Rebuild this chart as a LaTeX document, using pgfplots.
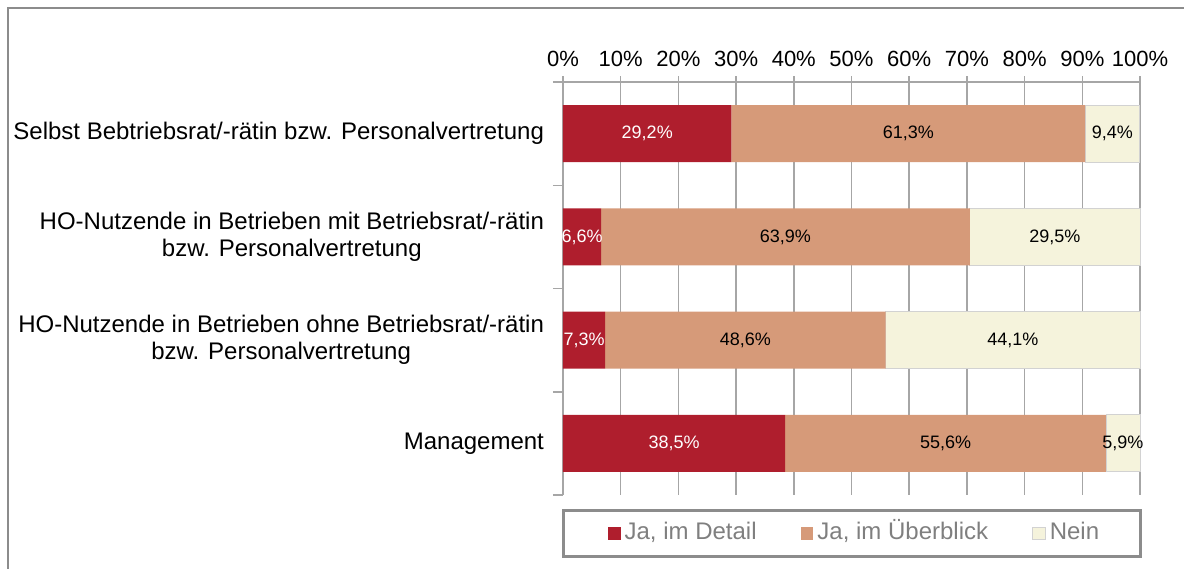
\documentclass[border=0pt]{standalone}
\usepackage{fontspec}
\setmainfont{Liberation Sans}
\usepackage{pgfplots}
\usepackage{pgfplotstable}
\pgfplotsset{compat=1.18}
\definecolor{detail}{HTML}{AF1E2D}
\definecolor{ueber}{HTML}{D69A79}
\definecolor{nein}{HTML}{F5F3DC}
\definecolor{gridgray}{HTML}{A6A6A6}
\definecolor{framegray}{HTML}{8C8C8C}
\definecolor{legtext}{HTML}{7F7F7F}

\pgfplotsset{sq legend/.style={legend image code/.code={\fill[##1] (0pt,-3.2pt) rectangle (6.4pt,3.2pt);}}}

% shares in percent, y=3 is the top row
\pgfplotstableread{
y detail ueber nein
3 29.2 61.3 9.4
2 6.6  63.9 29.5
1 7.3  48.6 44.1
0 38.5 55.6 5.9
}\data

\begin{document}
\begin{tikzpicture}[x=1pt,y=1pt]
\useasboundingbox (0,0) rectangle (592,284);
\draw[framegray, line width=1pt] (4,-2) -- (4,280) -- (594,280);
\begin{axis}[
    at={(281.5pt,36.5pt)}, anchor=south west,
    scale only axis, width=288.5pt, height=206.5pt,
    xbar stacked, bar width=28.5pt,
    xmin=0, xmax=100, ymin=-0.5, ymax=3.5,
    clip=false,
    /pgf/number format/assume math mode=true,
    axis x line=top, axis y line=left,
    axis line style={-, gridgray, line width=0.75pt},
    xtick={0,10,...,100},
    xticklabels={0\%,10\%,20\%,30\%,40\%,50\%,60\%,70\%,80\%,90\%,100\%},
    xticklabel style={font=\fontsize{11}{13}\selectfont, yshift=1pt},
    tick align=outside, major tick length=3pt,
    tick style={gridgray, line width=0.75pt},
    xmajorgrids, grid style={gridgray, line width=0.75pt},
    ytick={0,1,2,3},
    yticklabels={Management,
      {HO-Nutzende in Betrieben ohne Betriebsrat/-rätin\\bzw. Personalvertretung},
      {HO-Nutzende in Betrieben mit Betriebsrat/-rätin\\bzw. Personalvertretung},
      {Selbst Bebtriebsrat/-rätin bzw. Personalvertretung}},
    yticklabel style={align=center, font=\fontsize{12}{13.5}\selectfont, xshift=-3pt},
    every major y tick/.append style={draw=none},
    minor ytick={-0.5,0.5,1.5,2.5,3.5},
    minor tick length=5pt,
    every minor y tick/.append style={gridgray, line width=0.75pt},
    every node near coord/.append style={anchor=center, font=\fontsize{9}{11}\selectfont},
    legend style={at={(0.5,-0.0932)}, anchor=center, xshift=2pt, legend columns=3,
      draw=none, fill=none, font=\fontsize{12}{14}\selectfont, text=legtext,
      nodes={text height=9pt, text depth=2.5pt},
      /tikz/every even column/.append style={column sep=20pt}},
    legend cell align=left,
]
\addplot[fill=detail, draw=none, sq legend,
  visualization depends on={\thisrow{detail} \as \seg},
  nodes near coords={\pgfmathprintnumber[fixed,fixed zerofill,precision=1,use comma]{\seg}\%},
  every node near coord/.append style={text=white}]
  table[x=detail, y=y] {\data};
\addlegendentry{Ja, im Detail}
\addplot[fill=ueber, draw=none, sq legend,
  visualization depends on={\thisrow{ueber} \as \seg},
  nodes near coords={\pgfmathprintnumber[fixed,fixed zerofill,precision=1,use comma]{\seg}\%},
  every node near coord/.append style={text=black}]
  table[x=ueber, y=y] {\data};
\addlegendentry{Ja, im Überblick}
\addplot[fill=nein, draw=gray!35, line width=0.4pt, sq legend,
  visualization depends on={\thisrow{nein} \as \seg},
  nodes near coords={\pgfmathprintnumber[fixed,fixed zerofill,precision=1,use comma]{\seg}\%},
  every node near coord/.append style={text=black}]
  table[x=nein, y=y] {\data};
\addlegendentry{Nein}
\end{axis}
\draw[framegray, line width=1.5pt] (281.5,6) rectangle (570,28.5);
\end{tikzpicture}
\end{document}
